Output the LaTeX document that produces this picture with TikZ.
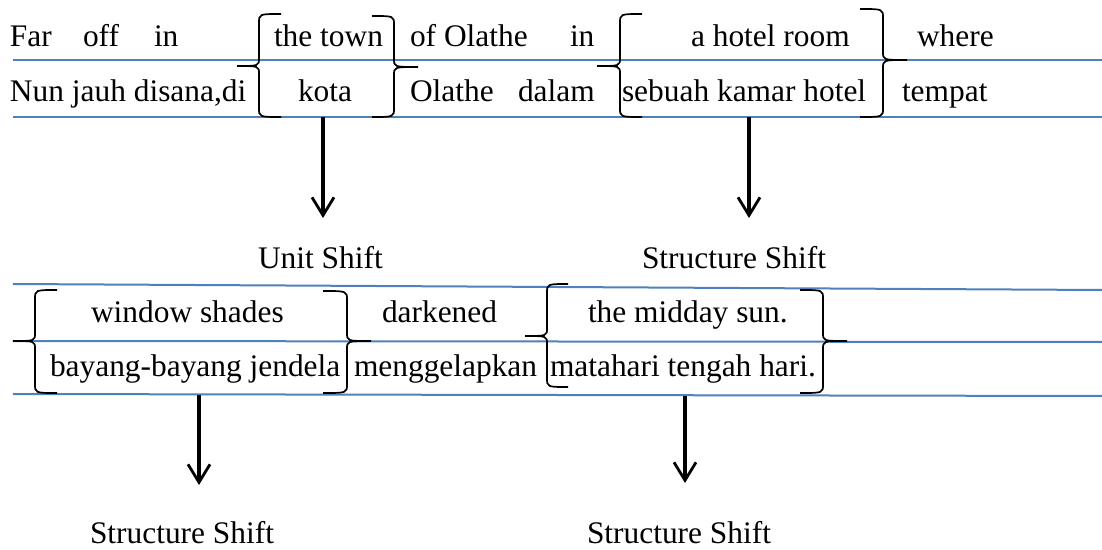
\documentclass[tikz,border=0pt]{standalone}
\usepackage{fontspec}
\setmainfont{Liberation Serif}
\usetikzlibrary{arrows.meta}

% curly bracket: stem x, tip x, hook x, top y, tip y, bottom y
\newcommand{\curlbrk}[6]{%
  \draw[curl] (#3,#4) .. controls (#1,#4) .. (#1,#4+9) -- (#1,#5-8)
    .. controls (#1,#5) .. (#2,#5) .. controls (#1,#5) .. (#1,#5+8)
    -- (#1,#6-9) .. controls (#1,#6) .. (#3,#6);}

\tikzset{
  word/.style={anchor=base west, inner sep=0pt, outer sep=0pt,
    font=\fontsize{15.7}{19}\selectfont},
  rule/.style={draw=rulecol, line width=1pt},
  curl/.style={draw=black, line width=0.85pt},
  shiftarrow/.style={draw=black, line width=1.6pt,
    -{Straight Barb[length=9pt,width=11pt,line width=1.4pt]}}
}
\definecolor{rulecol}{HTML}{4F81BD}

\begin{document}
\begin{tikzpicture}[x=0.5pt,y=-0.5pt]
\useasboundingbox[fill=white] (0,0) rectangle (1102,550);

% ruled lines
\draw[rule] (13,60) -- (1102,60);
\draw[rule] (13,117) -- (1102,117);
\draw[rule] (13,284) -- (1102,290);
\draw[rule] (13,341) -- (1102,342);
\draw[rule] (13,394) -- (1102,396);

% first sentence, English
\node[word] (e1) at (10,47) {Far};
\node[word] (e2) at (83,47) {off};
\node[word] (e3) at (154,47) {in};
\node[word] (e4) at (274,47) {the town};
\node[word] (e5) at (410,47) {of Olathe};
\node[word] (e6) at (570,47) {in};
\node[word] (e7) at (691,47) {a hotel room};
\node[word] (e8) at (917,47) {where};

% first sentence, Indonesian
\node[word] (i1) at (10,102) {Nun jauh disana,di};
\node[word] (i2) at (298,102) {kota};
\node[word] (i3) at (410,102) {Olathe};
\node[word] (i4) at (518,102) {dalam};
\node[word] (i5) at (622,102) {sebuah kamar hotel};
\node[word] (i6) at (902,102) {tempat};

% brackets, first sentence
\curlbrk{259}{237}{281}{14}{66}{117}
\curlbrk{394}{418}{372}{16}{67}{117}
\curlbrk{620}{597}{642}{14}{66}{117}
\curlbrk{883}{907}{860}{9}{60}{117}

% shifts, first sentence
\coordinate (s1a) at (323,117);
\coordinate (s1b) at (323,218);
\coordinate (s2a) at (749,117);
\coordinate (s2b) at (749,218);
\draw[shiftarrow] (s1a) -- (s1b);
\draw[shiftarrow] (s2a) -- (s2b);
\node[word] (l1) at (258,269) {Unit Shift};
\node[word] (l2) at (642,269) {Structure Shift};

% second sentence, English
\node[word] (f1) at (91,323) {window shades};
\node[word] (f2) at (382,323) {darkened};
\node[word] (f3) at (588,323) {the midday sun.};

% second sentence, Indonesian
\node[word] (j1) at (50,377) {bayang-bayang jendela};
\node[word] (j2) at (354,377) {menggelapkan};
\node[word] (j3) at (550,377) {matahari tengah hari.};

% brackets, second sentence
\curlbrk{35}{13}{57}{290}{341}{393}
\curlbrk{347}{371}{323}{291}{341}{393}
\curlbrk{547}{525}{568}{284}{336}{387}
\curlbrk{823}{847}{800}{290}{341}{393}

% shifts, second sentence
\coordinate (s3a) at (199,395);
\coordinate (s3b) at (199,485);
\coordinate (s4a) at (685,396);
\coordinate (s4b) at (685,483);
\draw[shiftarrow] (s3a) -- (s3b);
\draw[shiftarrow] (s4a) -- (s4b);
\node[word] (l3) at (90,543) {Structure Shift};
\node[word] (l4) at (587,543) {Structure Shift};
\end{tikzpicture}
\end{document}
